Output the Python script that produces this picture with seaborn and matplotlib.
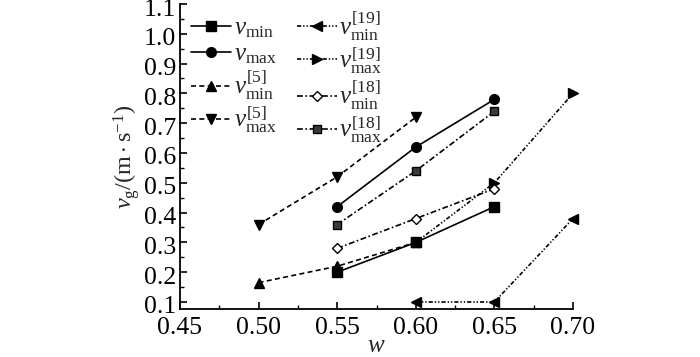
import numpy as np
import pandas as pd
import matplotlib
matplotlib.use("Agg")
import matplotlib.pyplot as plt
import matplotlib.transforms as mtransforms
import seaborn as sns
from matplotlib.ticker import MultipleLocator

# ---- data ----
w_vmin = [0.55, 0.60, 0.65]
vmin = [0.20, 0.30, 0.42]
w_vmax = [0.55, 0.60, 0.65]
vmax = [0.42, 0.62, 0.78]
w_vmin5 = [0.50, 0.55, 0.60]
vmin5 = [0.165, 0.22, 0.30]
w_vmax5 = [0.50, 0.55, 0.60]
vmax5 = [0.36, 0.52, 0.72]
w_vmin19 = [0.60, 0.65, 0.70]
vmin19 = [0.10, 0.10, 0.38]
w_vmax19 = [0.60, 0.65, 0.70]
vmax19 = [0.30, 0.50, 0.80]
w_vmin18 = [0.55, 0.60, 0.65]
vmin18 = [0.28, 0.38, 0.48]
w_vmax18 = [0.55, 0.60, 0.65]
vmax18 = [0.36, 0.54, 0.74]

labels = [r'$v_{\mathrm{min}}$', r'$v_{\mathrm{max}}$',
          r'$v_{\mathrm{min}}^{[5]}$', r'$v_{\mathrm{max}}^{[5]}$',
          r'$v_{\mathrm{min}}^{[19]}$', r'$v_{\mathrm{max}}^{[19]}$',
          r'$v_{\mathrm{min}}^{[18]}$', r'$v_{\mathrm{max}}^{[18]}$']
x_ticks = [0.45, 0.50, 0.55, 0.60, 0.65, 0.70]
y_ticks = [0.1, 0.2, 0.3, 0.4, 0.5, 0.6, 0.7, 0.8, 0.9, 1.0, 1.1]

sns.set_theme(style="ticks")
plt.rcParams['font.family'] = ['Liberation Serif', 'DejaVu Serif']
plt.rcParams['mathtext.fontset'] = 'custom'
plt.rcParams['mathtext.rm'] = 'Liberation Serif'
plt.rcParams['mathtext.it'] = 'Liberation Serif:italic'
plt.rcParams['mathtext.bf'] = 'Liberation Serif:bold'

fig = plt.figure(figsize=(7.0, 3.57), dpi=100)
ax = fig.add_axes([180/700, 1 - 309/357, (573-180)/700, (309-4)/357])

dash5 = (0, (3.0, 2.0))
dash19 = (0, (2.5, 1.2, 0.8, 1.2, 0.8, 1.2))
dash18 = (0, (3.5, 1.5, 1.0, 1.5))

series = [
    (w_vmin, vmin, '-', 's', 'black', 5, 6.5),
    (w_vmax, vmax, '-', 'o', 'black', 5, 7),
    (w_vmin5, vmin5, dash5, '^', 'black', 4, 7),
    (w_vmax5, vmax5, dash5, 'v', 'black', 4, 7),
    (w_vmin19, vmin19, dash19, '<', 'black', 2, 7),
    (w_vmax19, vmax19, dash19, '>', 'black', 2, 7),
    (w_vmin18, vmin18, dash18, 'D', 'white', 3, 5),
    (w_vmax18, vmax18, dash18, 's', '#3a3a3a', 3, 5.5),
]

handles = []
for (xs, ys, ls, mk, mfc, z, ms), lab in zip(series, labels):
    df = pd.DataFrame({'w': xs, 'v': ys})
    sns.lineplot(data=df, x='w', y='v', ax=ax, color='black', linestyle=ls,
                 linewidth=1.2, marker=mk, markersize=ms,
                 markerfacecolor=mfc, markeredgecolor='black', markeredgewidth=1.0,
                 zorder=z, label=lab, clip_on=False)
    handles.append(ax.get_lines()[-1])

ax.set_xlim(0.45, 0.70)
ax.set_ylim(0.0765, 1.1)
ax.set_xticks(x_ticks)
ax.set_xticklabels([f'{t:.2f}' for t in x_ticks])
ax.set_yticks(y_ticks)
ax.set_yticklabels([f'{t:.1f}' for t in y_ticks])
ax.xaxis.set_minor_locator(MultipleLocator(0.025))
ax.yaxis.set_minor_locator(MultipleLocator(0.05))
ax.tick_params(which='major', direction='in', length=5, width=1.2, labelsize=18.5, colors='black')
ax.tick_params(axis='x', which='major', pad=6)
ax.tick_params(axis='y', which='major', pad=3)
ax.tick_params(which='minor', direction='in', length=3, width=1.0, colors='black')
for s in ['top', 'right']:
    ax.spines[s].set_visible(False)
for s in ['left', 'bottom']:
    ax.spines[s].set_linewidth(1.3)
    ax.spines[s].set_color('black')

off = mtransforms.ScaledTranslation(0, -3/100, fig.dpi_scale_trans)
for lab in ax.get_yticklabels():
    lab.set_transform(lab.get_transform() + off)

ax.set_xlabel(r'$w$', fontsize=18, labelpad=-3)
ax.set_ylabel(r'$v_{\mathrm{g}}/(\mathrm{m}\cdot\mathrm{s}^{-1})$', fontsize=17.5, labelpad=1)

ax.legend(handles=handles, labels=labels, ncol=2, frameon=False, fontsize=18,
          loc='upper left', bbox_to_anchor=(191/700, 1 - 9/357),
          bbox_transform=fig.transFigure, handlelength=1.6, handletextpad=0.1,
          columnspacing=0.8, labelspacing=0.1, borderpad=0, borderaxespad=0)

fig.savefig('out.png', dpi=100)
